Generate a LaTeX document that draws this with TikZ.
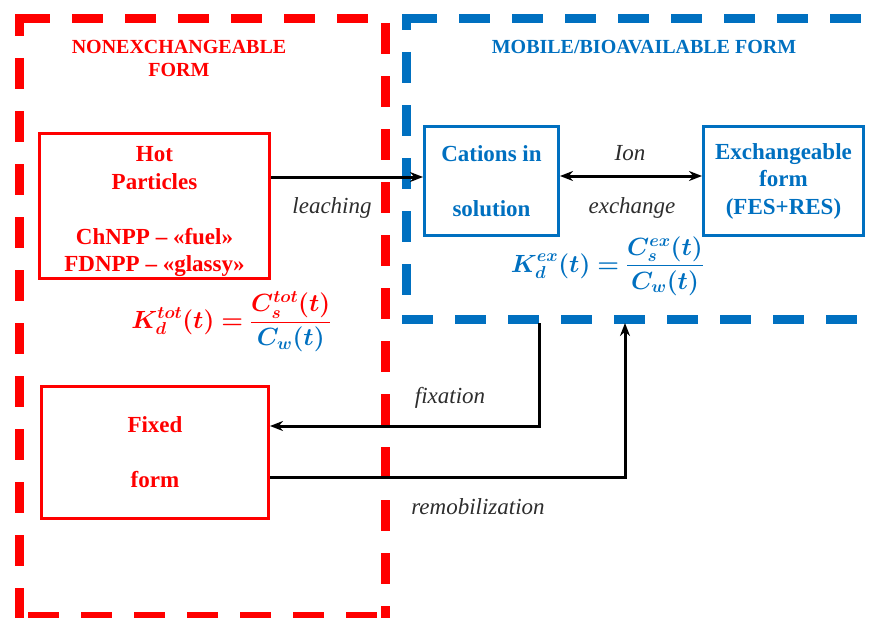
\documentclass[tikz,border=0pt]{standalone}
\usepackage{amsmath}
\usepackage{bm}
\usepackage{fontspec}
\setmainfont{Liberation Serif}
\usetikzlibrary{arrows.meta}
\definecolor{myred}{RGB}{255,0,0}
\definecolor{myblue}{RGB}{0,112,192}
\definecolor{lbl}{RGB}{45,45,45}
\newcommand{\ktotformula}{\mbox{$\displaystyle \bm{K_d^{tot}(t)}\bm{=}\frac{\bm{C_s^{tot}(t)}}{\textcolor{myblue}{\bm{C_w(t)}}}$}}
\newcommand{\kexformula}{\mbox{$\displaystyle \bm{K_d^{ex}(t)}\bm{=}\frac{\bm{C_s^{ex}(t)}}{\bm{C_w(t)}}$}}
\begin{document}
\begin{tikzpicture}[x=1pt,y=-1pt,
  reddash/.style={draw=myred,line width=9pt,dash pattern=on 31pt off 22pt},
  bluedash/.style={draw=myblue,line width=9pt,dash pattern=on 31pt off 22pt},
  redcorner/.style={draw=myred,line width=9pt,line join=miter},
  bluecorner/.style={draw=myblue,line width=9pt,line join=miter},
  box/.style={line width=3pt,inner sep=0pt,align=center,font=\bfseries\fontsize{23}{27.5}\selectfont},
  head/.style={align=center,inner sep=0pt,font=\bfseries\fontsize{20}{23}\selectfont},
  lab/.style={inner sep=0pt,text=lbl,font=\itshape\fontsize{23}{27}\selectfont},
  fml/.style={inner sep=0pt,font=\fontsize{23}{27}\selectfont},
  tip/.tip={Stealth[length=13pt,width=10pt]},
  conn/.style={line width=3pt,-tip},
  dconn/.style={line width=3pt,tip-tip}]
\useasboundingbox (0,0) rectangle (875,618);
% red dashed region
\draw[redcorner] (19,36) -- (19,19) -- (50,19);
\draw[reddash] (72,19) -- (372,19);
\draw[reddash] (19,58) -- (19,620);
\draw[reddash] (385,23) -- (385,620);
\draw[reddash] (28,616) -- (390,616);
% blue dashed region
\draw[bluecorner] (406,30) -- (406,19) -- (437,19);
\draw[bluedash] (459,19) -- (863,19);
\draw[bluedash] (406,52) -- (406,296);
\draw[bluedash] (402,319) -- (863,319);
% headings
\node[head,text=myred] (nonex) at (179,58.5) {NONEXCHANGEABLE\\FORM};
\node[head,text=myblue] (mob) at (644,47) {MOBILE/BIOAVAILABLE FORM};
% boxes
\node[box,draw=myred,text=myred,minimum width=230pt,minimum height=145pt] (hot) at (154.5,206) {\rule{0pt}{27pt}Hot\\Particles\\[27.5pt]ChNPP – «fuel»\\FDNPP – «glassy»};
\node[box,draw=myblue,text=myblue,minimum width=134pt,minimum height=109pt] (cat) at (491.5,181) {Cations in\\[27.5pt]solution};
\node[box,draw=myblue,text=myblue,minimum width=160pt,minimum height=109pt] (exch) at (783.5,181) {Exchangeable\\form\\(FES+RES)};
\node[box,draw=myred,text=myred,minimum width=227pt,minimum height=132pt] (fixed) at (155,452.5) {Fixed\\[27.5pt]form};
% formulas
\node[fml,text=myred] (ktot) at (231.5,322) {\ktotformula};
\node[fml,text=myblue] (kex) at (607.5,266) {\kexformula};
% connectors
\coordinate (lt) at ([yshift=4pt]cat.west);
\coordinate (fxs) at (539,323);
\coordinate (rms) at (625,323);
\draw[conn] (hot.east |- lt) -- (lt);
\draw[dconn] ([yshift=5pt]cat.east) -- ([yshift=5pt]exch.west);
\draw[conn] (fxs) |- ([yshift=26.5pt]fixed.east);
\draw[conn] ([yshift=-24.5pt]fixed.east) -| (rms);
% labels
\node[lab] (leach) at (332,208) {leaching};
\node[lab] (ion) at (630,153) {Ion};
\node[lab] (exc) at (632,208) {exchange};
\node[lab] (fix) at (450,398) {fixation};
\node[lab] (remob) at (478,507) {remobilization};
\end{tikzpicture}
\end{document}
